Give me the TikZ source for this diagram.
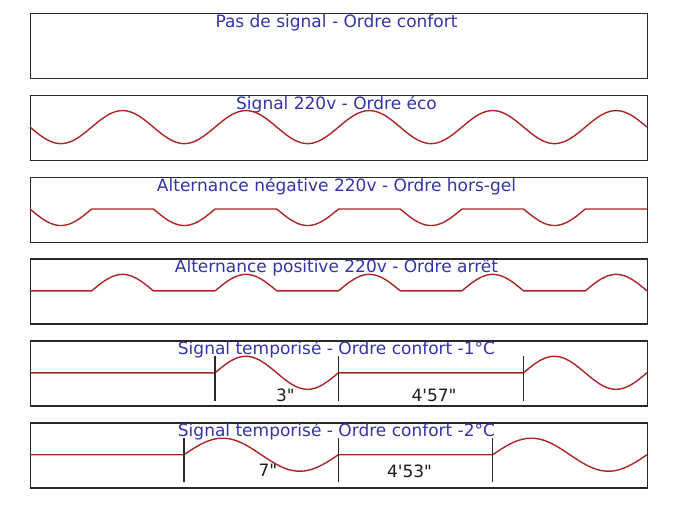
\documentclass[tikz,border=0pt]{standalone}
\usepackage{fontspec}
\setmainfont{DejaVu Sans}
\definecolor{sigc}{RGB}{172,38,38}
\definecolor{ttlc}{RGB}{52,52,168}
\definecolor{frmc}{RGB}{40,40,40}
\definecolor{lblc}{RGB}{30,30,30}
\begin{document}
\begin{tikzpicture}[x=1pt,y=-1pt,
  frame/.style={draw=frmc, line width=1.4pt, minimum width=617pt, minimum height=65pt, inner sep=0pt, anchor=north west},
  ttl/.style={text=ttlc, anchor=base, inner sep=0pt, font=\fontsize{17}{20}\selectfont},
  lbl/.style={text=lblc, anchor=base, inner sep=0pt, font=\fontsize{17}{20}\selectfont},
  sig/.style={draw=sigc, line width=1.4pt, line join=round},
  tick/.style={draw=frmc, line width=1.2pt}]
\useasboundingbox (0,0) rectangle (683,512);
\fill[white] (0,0) rectangle (683,512);
% frames
\node[frame] (f1) at (30,12.7) {};
\node[frame] (f2) at (30,94.6) {};
\node[frame] (f3) at (30,176.5) {};
\node[frame] (f4) at (30,258.4) {};
\node[frame] (f5) at (30,340.3) {};
\node[frame] (f6) at (30,422.2) {};
% titles
\node[ttl] (t1) at (336.5,27.2) {Pas de signal - Ordre confort};
\node[ttl] (t2) at (336.5,109.1) {Signal 220v - Ordre éco};
\node[ttl] (t3) at (336.5,191.0) {Alternance négative 220v - Ordre hors-gel};
\node[ttl] (t4) at (336.5,272.9) {Alternance positive 220v - Ordre arrêt};
\node[ttl] (t5) at (336.5,354.8) {Signal temporisé - Ordre confort -1°C};
\node[ttl] (t6) at (336.5,436.7) {Signal temporisé - Ordre confort -2°C};
% labels
\node[lbl] (l1) at (285.5,401) {3\textquotedbl};
\node[lbl] (l2) at (434,401) {4\textquotesingle 57\textquotedbl};
\node[lbl] (l3) at (268,476.5) {7\textquotedbl};
\node[lbl] (l4) at (409.6,477) {4\textquotesingle 53\textquotedbl};
% signal 220v
\draw[sig] plot[domain=30:647,samples=400,smooth] (\x,{127.1+16.5*sin(((\x-30)/123.4)*360)});
% negative half
\draw[sig] plot[domain=30:647,samples=600] (\x,{209.0+16.5*max(sin(((\x-30)/123.4)*360),0)});
% positive half
\draw[sig] plot[domain=30:647,samples=600] (\x,{290.9+16.5*min(sin(((\x-30)/123.4)*360),0)});
% timed -1
\coordinate (a0) at (30,372.8);
\coordinate (a1) at (215,372.8);
\coordinate (a2) at (338.4,372.8);
\coordinate (a3) at (523.5,372.8);
\draw[sig] (a0) -- (a1) -- plot[domain=215:338.4,samples=100] (\x,{372.8-16.5*sin(((\x-215)/123.4)*360)}) -- (a2) -- (a3) -- plot[domain=523.5:647,samples=100] (\x,{372.8-16.5*sin(((\x-523.5)/123.4)*360)});
\draw[tick] (215,355.8) -- (215,400.8);
\draw[tick] (338.4,355.8) -- (338.4,400.8);
\draw[tick] (523.5,355.8) -- (523.5,400.8);
% timed -2
\coordinate (b0) at (30,454.7);
\coordinate (b1) at (184,454.7);
\coordinate (b2) at (338.4,454.7);
\coordinate (b3) at (492.7,454.7);
\draw[sig] (b0) -- (b1) -- plot[domain=184:338.4,samples=120] (\x,{454.7-16.5*sin(((\x-184)/154.4)*360)}) -- (b2) -- (b3) -- plot[domain=492.7:647,samples=120] (\x,{454.7-16.5*sin(((\x-492.7)/154.3)*360)});
\draw[tick] (184,438.2) -- (184,482);
\draw[tick] (338.4,438.2) -- (338.4,482);
\draw[tick] (492.7,438.2) -- (492.7,482);
\end{tikzpicture}
\end{document}
